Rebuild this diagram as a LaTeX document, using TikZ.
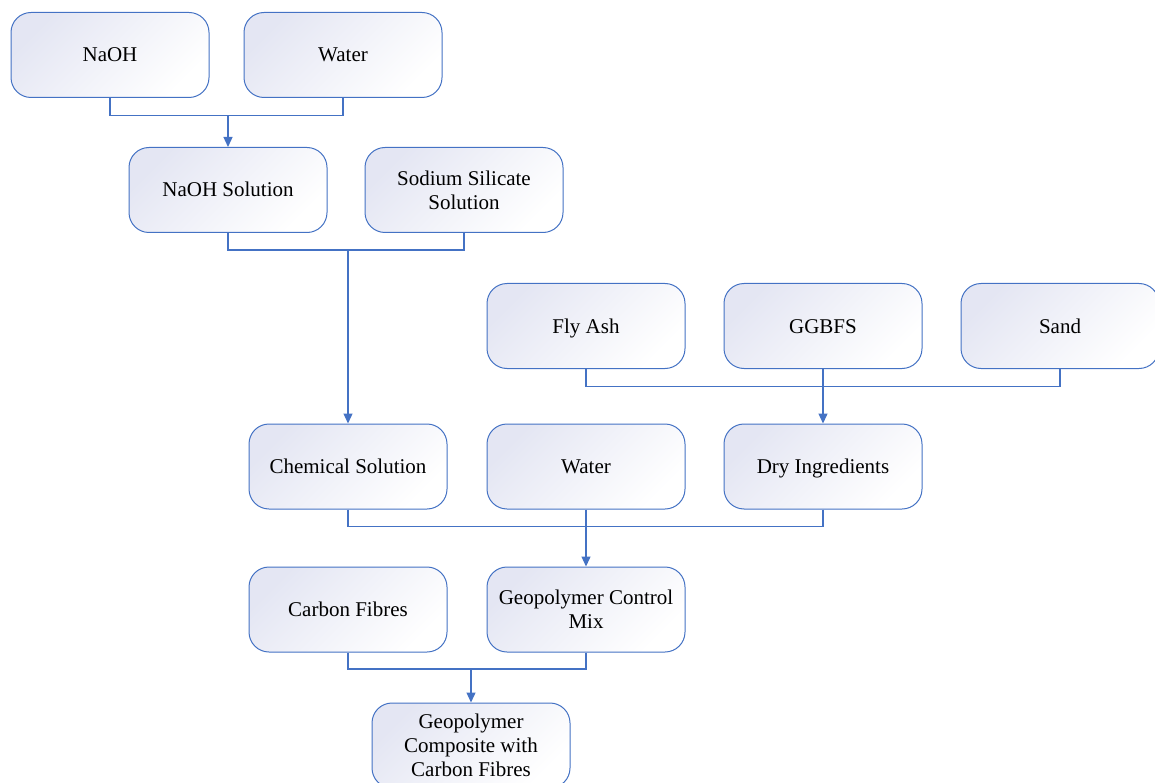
\documentclass[tikz,border=0pt]{standalone}
\usepackage{fontspec}
\setmainfont{Liberation Serif}
\usetikzlibrary{arrows.meta}
\definecolor{edgeblue}{HTML}{4472C4}
\definecolor{lav}{HTML}{E4E6F3}
\tikzset{
  procbox/.style={draw=edgeblue, line width=1pt, rounded corners=20pt,
    minimum width=198pt, minimum height=85pt, inner sep=0pt, align=center,
    top color=lav, bottom color=white, shading angle=45,
    font=\fontsize{21}{24}\selectfont},
  oneline/.style={procbox, text height=14pt, text depth=0pt},
  conn/.style={draw=edgeblue, line width=1.3pt},
  arr/.style={conn, -{Triangle[length=10pt,width=9pt]}}
}
\begin{document}
\begin{tikzpicture}[x=1pt,y=-1pt]
\useasboundingbox (0,0) rectangle (1155,783);
\clip (0,0) rectangle (1155,783);
\node[oneline] (naoh) at (110,55) {NaOH};
\node[oneline] (water1) at (343,55) {Water};
\node[oneline] (naohsol) at (228,190) {NaOH Solution};
\node[procbox] (sodsil) at (464,190) {Sodium Silicate\\Solution};
\node[oneline] (fly) at (586,326) {Fly Ash};
\node[oneline] (ggbfs) at (823,326) {GGBFS};
\node[oneline] (sand) at (1060,326) {Sand};
\node[oneline] (chem) at (348,466.5) {Chemical Solution};
\node[oneline] (water2) at (586,466.5) {Water};
\node[oneline] (dry) at (823,466.5) {Dry Ingredients};
\node[oneline] (carbon) at (348,609.5) {Carbon Fibres};
\node[procbox] (gcm) at (586,609.5) {Geopolymer Control\\Mix};
\node[procbox] (comp) at (471,745.5) {Geopolymer\\Composite with\\Carbon Fibres};
\coordinate (j1) at (228,115.7);
\coordinate (j2) at (348,250);
\coordinate (j3) at (823,386.5);
\coordinate (j4) at (586,526.5);
\coordinate (j5) at (471,669);
\draw[conn] (naoh.south) |- (j1);
\draw[conn] (water1.south) |- (j1);
\draw[arr] (j1) -- (naohsol.north);
\draw[conn] (naohsol.south) |- (j2);
\draw[conn] (sodsil.south) |- (j2);
\draw[arr] (j2) -- (chem.north);
\draw[conn] (fly.south) |- (j3);
\draw[conn] (sand.south) |- (j3);
\draw[conn] (ggbfs.south) -- (j3);
\draw[arr] (j3) -- (dry.north);
\draw[conn] (chem.south) |- (j4);
\draw[conn] (dry.south) |- (j4);
\draw[conn] (water2.south) -- (j4);
\draw[arr] (j4) -- (gcm.north);
\draw[conn] (carbon.south) |- (j5);
\draw[conn] (gcm.south) |- (j5);
\draw[arr] (j5) -- (comp.north);
\end{tikzpicture}
\end{document}
